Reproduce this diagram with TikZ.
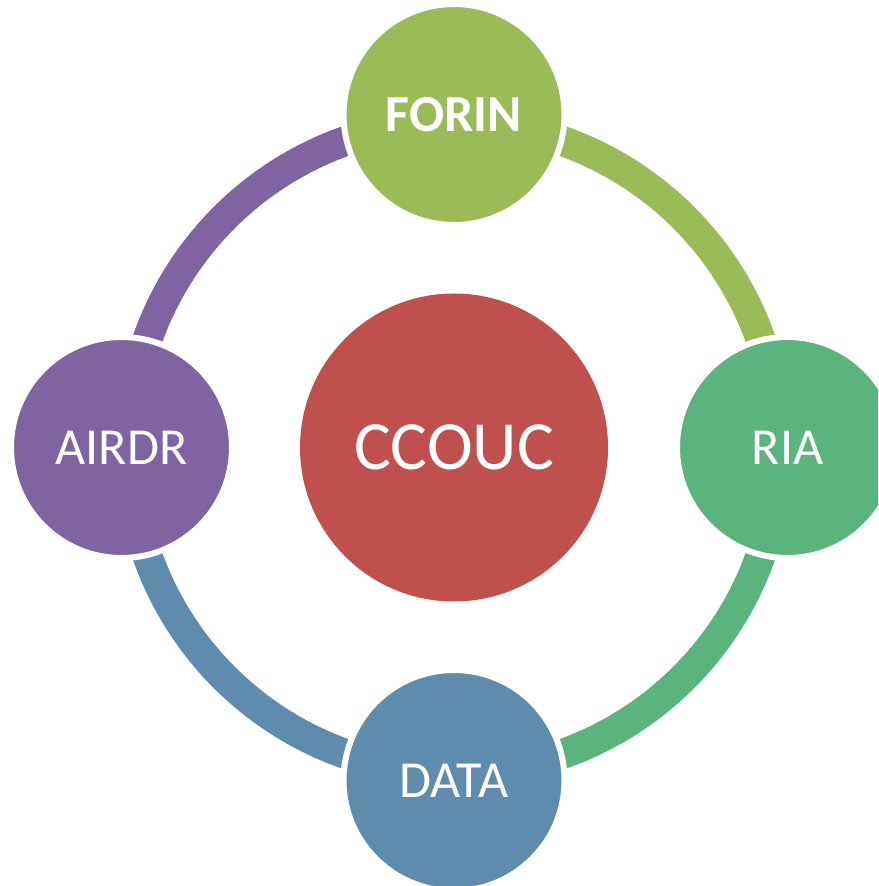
\documentclass[tikz,border=0pt]{standalone}
\usepackage{fontspec}
\setmainfont{Carlito}
\definecolor{cForin}{HTML}{9BBB59}
\definecolor{cRia}{HTML}{5BB37D}
\definecolor{cData}{HTML}{5F8CAD}
\definecolor{cAirdr}{HTML}{8064A2}
\definecolor{cCenter}{HTML}{C0504D}
\begin{document}
\begin{tikzpicture}[x=1pt,y=1pt,
  ring/.style={line width=30pt, line cap=butt},
  sat/.style={circle, draw=white, line width=6pt, minimum size=221pt, inner sep=0pt, text=white,
    font=\fontsize{52}{60}\selectfont},
  hub/.style={circle, minimum size=308pt, inner sep=0pt, text=white, fill=cCenter,
    font=\fontsize{69}{80}\selectfont}]
\useasboundingbox (0,0) rectangle (878,886);
\clip (0,0) rectangle (878,886);
\node[hub] (c) at (454,438.5) {CCOUC};
\draw[ring, cForin] (c.center) ++(90:325) arc[start angle=90, end angle=0, radius=325];
\draw[ring, cRia] (c.center) ++(0:325) arc[start angle=0, end angle=-90, radius=325];
\draw[ring, cData] (c.center) ++(-90:325) arc[start angle=-90, end angle=-180, radius=325];
\draw[ring, cAirdr] (c.center) ++(180:325) arc[start angle=180, end angle=90, radius=325];
\node[sat, fill=cForin, font=\fontsize{52}{60}\selectfont\bfseries] (forin) at (454,771.5) {FORIN};
\node[sat, fill=cRia] (ria) at (787.5,438.5) {RIA};
\node[sat, fill=cData] (data) at (454,105.5) {DATA};
\node[sat, fill=cAirdr] (airdr) at (121.5,438.5) {AIRDR};
\end{tikzpicture}
\end{document}
